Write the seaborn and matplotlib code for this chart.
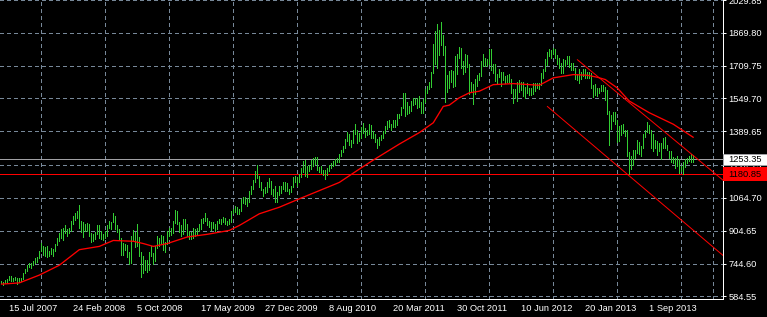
import numpy as np
import pandas as pd
import matplotlib
matplotlib.use("Agg")
import matplotlib.pyplot as plt
from matplotlib.patches import Rectangle
from matplotlib.transforms import blended_transform_factory
import seaborn as sns

# ---------------- data (weekly gold bars) ----------------
first_week = "2007-06-17"

highs_2007 = [660, 655, 662, 668, 683, 686, 675, 680, 675, 672, 675, 700, 718, 738, 745, 747, 758, 770, 775, 808,
              845, 830, 826, 828, 808, 822, 815, 840, 868]
lows_2007 = [650, 642, 648, 655, 664, 660, 660, 663, 645, 655, 660, 668, 700, 708, 727, 725, 735, 745, 752, 772,
             808, 785, 783, 775, 782, 790, 780, 808, 833]

highs_2008 = [895, 915, 918, 933, 912, 920, 952, 975, 990, 1003, 1032, 950, 945, 938, 942, 935, 895, 890, 900, 930,
              930, 905, 890, 905, 930, 950, 945, 990, 975, 930, 915, 870, 845, 840, 835, 800, 880, 910, 900, 935,
              875, 800, 780, 760, 760, 800, 830, 795, 830, 880, 870, 885]
lows_2008 = [855, 870, 860, 895, 880, 895, 905, 935, 955, 965, 918, 900, 875, 905, 905, 880, 850, 855, 865, 890,
             870, 862, 857, 870, 880, 920, 915, 945, 915, 900, 860, 785, 785, 810, 775, 740, 745, 860, 825, 830,
             780, 681, 700, 715, 705, 715, 780, 740, 755, 820, 830, 840]

highs_2009 = [880, 850, 905, 920, 920, 950, 1005, 1000, 945, 930, 960, 960, 935, 905, 900, 920, 915, 920, 935, 960,
              965, 990, 965, 950, 945, 945, 935, 950, 960, 960, 970, 965, 950, 960, 1000, 1010, 1025, 1020, 1010,
              1060, 1070, 1070, 1065, 1100, 1125, 1150, 1195, 1227, 1170, 1140, 1110, 1120]
lows_2009 = [810, 800, 840, 880, 885, 895, 940, 935, 900, 880, 890, 915, 880, 865, 865, 870, 880, 885, 905, 915,
             940, 950, 930, 925, 910, 920, 905, 915, 940, 935, 945, 935, 930, 935, 945, 990, 995, 985, 985, 1000,
             1040, 1035, 1025, 1045, 1085, 1110, 1140, 1160, 1120, 1105, 1075, 1090]

highs_2010 = [1140, 1160, 1145, 1110, 1125, 1095, 1125, 1125, 1140, 1140, 1135, 1110, 1125, 1165, 1170, 1165, 1180,
              1210, 1245, 1250, 1220, 1225, 1250, 1260, 1265, 1262, 1215, 1220, 1200, 1200, 1210, 1225, 1235, 1245,
              1255, 1260, 1280, 1300, 1320, 1350, 1388, 1375, 1345, 1395, 1425, 1395, 1380, 1410, 1432, 1405, 1395,
              1425]
lows_2010 = [1095, 1120, 1085, 1075, 1045, 1045, 1080, 1090, 1110, 1100, 1100, 1085, 1095, 1120, 1140, 1125, 1140,
             1165, 1190, 1170, 1165, 1195, 1205, 1220, 1230, 1200, 1190, 1185, 1175, 1157, 1175, 1195, 1210, 1220,
             1225, 1240, 1240, 1270, 1290, 1310, 1340, 1325, 1315, 1330, 1375, 1330, 1340, 1355, 1380, 1360, 1370,
             1375]

highs_2011 = [1420, 1390, 1375, 1350, 1360, 1370, 1390, 1415, 1440, 1445, 1425, 1445, 1445, 1475, 1475, 1510, 1575,
              1577, 1530, 1515, 1535, 1550, 1550, 1550, 1560, 1530, 1545, 1595, 1610, 1630, 1680, 1815, 1880, 1912,
              1885, 1921, 1860, 1805, 1665, 1685, 1690, 1685, 1755, 1765, 1803, 1795, 1730, 1765, 1760, 1720, 1630,
              1620]
lows_2011 = [1355, 1355, 1335, 1310, 1325, 1345, 1355, 1380, 1400, 1410, 1395, 1410, 1410, 1420, 1455, 1470, 1505,
             1462, 1475, 1480, 1490, 1520, 1525, 1505, 1510, 1478, 1480, 1530, 1575, 1595, 1605, 1675, 1720, 1700,
             1760, 1810, 1760, 1530, 1580, 1600, 1630, 1605, 1610, 1670, 1745, 1700, 1670, 1680, 1705, 1570, 1580,
             1523]

highs_2012 = [1645, 1665, 1675, 1730, 1765, 1745, 1740, 1790, 1790, 1720, 1720, 1670, 1695, 1680, 1680, 1660, 1665,
              1670, 1645, 1595, 1595, 1630, 1640, 1630, 1630, 1605, 1625, 1600, 1600, 1625, 1625, 1625, 1625, 1675,
              1695, 1740, 1775, 1790, 1785, 1796, 1790, 1760, 1745, 1725, 1740, 1738, 1755, 1755, 1725, 1725, 1700,
              1670, 1695]
lows_2012 = [1570, 1610, 1640, 1660, 1710, 1710, 1710, 1720, 1690, 1675, 1635, 1625, 1655, 1610, 1640, 1625, 1630,
             1630, 1575, 1527, 1550, 1535, 1580, 1590, 1560, 1550, 1575, 1565, 1565, 1570, 1585, 1600, 1595, 1615,
             1650, 1685, 1715, 1755, 1745, 1765, 1745, 1720, 1700, 1675, 1675, 1710, 1720, 1705, 1690, 1690, 1645,
             1640, 1625]

highs_2013 = [1680, 1695, 1695, 1680, 1680, 1675, 1615, 1620, 1600, 1600, 1615, 1615, 1605, 1590, 1490, 1470, 1485,
              1485, 1445, 1415, 1420, 1425, 1395, 1395, 1290, 1270, 1300, 1300, 1345, 1335, 1320, 1375, 1395, 1434,
              1420, 1395, 1375, 1345, 1340, 1330, 1330, 1355, 1362, 1325, 1295, 1295, 1265, 1260, 1268, 1255, 1220,
              1240]
lows_2013 = [1645, 1660, 1650, 1650, 1650, 1600, 1555, 1565, 1560, 1575, 1585, 1585, 1540, 1475, 1321, 1400, 1440,
             1425, 1338, 1340, 1370, 1380, 1365, 1270, 1180, 1207, 1225, 1260, 1285, 1280, 1270, 1310, 1360, 1385,
             1380, 1310, 1292, 1310, 1275, 1295, 1252, 1310, 1310, 1300, 1260, 1240, 1235, 1210, 1220, 1185, 1195,
             1182]

highs_2014 = [1255, 1257, 1270, 1280, 1272]
lows_2014 = [1215, 1235, 1245, 1240, 1240]

# moving average (red curve), read at sample weeks
ma_dates = ["2007-06-17", "2007-08-19", "2007-10-28", "2008-01-06", "2008-03-16", "2008-05-25", "2008-07-13",
            "2008-09-21", "2008-10-26", "2008-11-30", "2009-01-18", "2009-03-29", "2009-06-07", "2009-08-23",
            "2009-09-27", "2009-12-06", "2010-02-14", "2010-04-25", "2010-08-01", "2010-09-12", "2010-11-21",
            "2011-01-09", "2011-04-10", "2011-06-19", "2011-08-07", "2011-09-11", "2011-10-02", "2011-11-06",
            "2011-12-11", "2012-01-15", "2012-03-04", "2012-05-13", "2012-08-12", "2012-09-30", "2012-12-09",
            "2013-01-27", "2013-03-03", "2013-03-31", "2013-05-12", "2013-06-23", "2013-09-01", "2013-11-24",
            "2014-02-02"]
ma_values = [644, 650, 688, 736, 812, 828, 857, 853, 842, 828, 842, 874, 887, 906, 930, 987, 1019, 1060, 1116,
             1140, 1205, 1249, 1327, 1383, 1431, 1511, 1517, 1553, 1577, 1585, 1617, 1622, 1614, 1650, 1666, 1663,
             1653, 1642, 1601, 1537, 1480, 1424, 1360]

# trend lines
trend_upper_dates = ["2012-12-23", "2014-05-18"]
trend_upper_values = [1739, 1150]
trend_lower_dates = ["2012-09-09", "2014-05-18"]
trend_lower_values = [1511, 783]

current_price = 1253.35
level_price = 1180.85
current_label = "1253.35"
level_label = "1180.85"

y_tick_labels = ["584.55", "744.60", "904.65", "1064.70", "1224.75", "1389.65", "1549.70", "1709.75", "1869.80",
                 "2029.85"]
x_tick_dates = ["2007-07-15", "2008-02-24", "2008-10-05", "2009-05-17", "2009-12-27", "2010-08-08", "2011-03-20",
                "2011-10-30", "2012-06-10", "2013-01-20", "2013-09-01"]
x_tick_labels = ["15 Jul 2007", "24 Feb 2008", "5 Oct 2008", "17 May 2009", "27 Dec 2009", "8 Aug 2010",
                 "20 Mar 2011", "30 Oct 2011", "10 Jun 2012", "20 Jan 2013", "1 Sep 2013"]

highs = highs_2007 + highs_2008 + highs_2009 + highs_2010 + highs_2011 + highs_2012 + highs_2013 + highs_2014
lows = lows_2007 + lows_2008 + lows_2009 + lows_2010 + lows_2011 + lows_2012 + lows_2013 + lows_2014
weeks = pd.date_range(first_week, periods=len(highs), freq="7D")
bars = pd.DataFrame({"week": weeks, "high": highs, "low": lows})
ma = pd.DataFrame({"week": pd.to_datetime(ma_dates), "ma": ma_values})

# ---------------- style ----------------
sns.set_theme(style="dark")
plt.rcParams["font.family"] = ["Liberation Sans", "DejaVu Sans"]
plt.rcParams["font.size"] = 6.7

BG = "black"
GRID = "#778899"
GREEN = "#32cd32"
RED = "#ff0000"
PX = 0.72  # one pixel in points at dpi 100

fig = plt.figure(figsize=(7.67, 3.17), dpi=100, facecolor=BG)
ax = fig.add_axes([0.0, 17.7 / 317, 722.7 / 767, 299.3 / 317])
ax.set_facecolor(BG)

x0 = pd.Timestamp("2007-06-12 11:00")
x1 = pd.Timestamp("2014-05-16")
ax.set_xlim(x0, x1)
ax.set_ylim(570.0, 2021.6)

# grid
grid_dates = pd.date_range("2007-07-15", "2014-05-15", freq="112D")
ax.set_xticks(grid_dates, minor=True)
ax.set_xticks(pd.to_datetime(x_tick_dates))
ax.set_xticklabels(x_tick_labels, ha="left")
y_ticks = [float(s) for s in y_tick_labels]
ax.set_yticks(y_ticks)
ax.set_yticklabels(y_tick_labels)
ax.grid(False)
ax.grid(True, which="minor", axis="x", color=GRID, lw=PX, ls=(0, (3, 3)), antialiased=False)
ax.grid(True, which="major", axis="y", color=GRID, lw=PX, ls=(0, (3, 3)), antialiased=False)
ax.set_axisbelow(True)

# bars
ax.vlines(bars["week"], bars["low"], bars["high"], colors=GREEN, lw=PX, antialiased=False, zorder=3)

# horizontal price lines
ax.axhline(current_price, color="#a0a0a4", lw=PX, zorder=2.6, antialiased=False)
ax.axhline(level_price, color=RED, lw=PX, zorder=2.6, antialiased=False)

# moving average
sns.lineplot(data=ma, x="week", y="ma", color=RED, lw=0.95, ax=ax, zorder=4)

# trend lines
ax.plot(pd.to_datetime(trend_upper_dates), trend_upper_values, color=RED, lw=PX, zorder=4)
ax.plot(pd.to_datetime(trend_lower_dates), trend_lower_values, color=RED, lw=PX, zorder=4)

ax.set_xlabel("")
ax.set_ylabel("")

# axes / ticks
for s in ["top", "left"]:
    ax.spines[s].set_visible(False)
for s in ["right", "bottom"]:
    ax.spines[s].set_color("white")
    ax.spines[s].set_linewidth(PX)
ax.yaxis.tick_right()
ax.tick_params(axis="both", which="major", colors="white", length=2.2, width=PX, direction="out",
               labelsize=6.7, labelcolor="white")
ax.tick_params(axis="x", which="major", pad=1.5)
ax.tick_params(axis="y", which="major", pad=2)
ax.tick_params(axis="x", which="minor", length=0)

# price boxes on the right scale
upp = (2021.6 - 570.0) / 299.3  # data units per pixel
trans = blended_transform_factory(ax.transAxes, ax.transData)
xr = 767 / 722.7
ax.add_patch(Rectangle((1.0, current_price - 5.5 * upp), xr - 1.0, 10.5 * upp, transform=trans,
                       facecolor="white", edgecolor="#a0a0a4", lw=PX, clip_on=False, zorder=10))
ax.text(1.0 + 6 / 722.7, current_price, current_label, transform=trans, color="black", fontsize=6.7,
        va="center", ha="left", zorder=11, clip_on=False)
ax.add_patch(Rectangle((1.0, level_price - 7 * upp), xr - 1.0, 14 * upp, transform=trans,
                       facecolor=RED, edgecolor=RED, lw=0, clip_on=False, zorder=10))
ax.text(1.0 + 6 / 722.7, level_price, level_label, transform=trans, color="black", fontsize=6.7,
        va="center", ha="left", zorder=11, clip_on=False)

fig.savefig("out.png", dpi=100, facecolor=BG)
